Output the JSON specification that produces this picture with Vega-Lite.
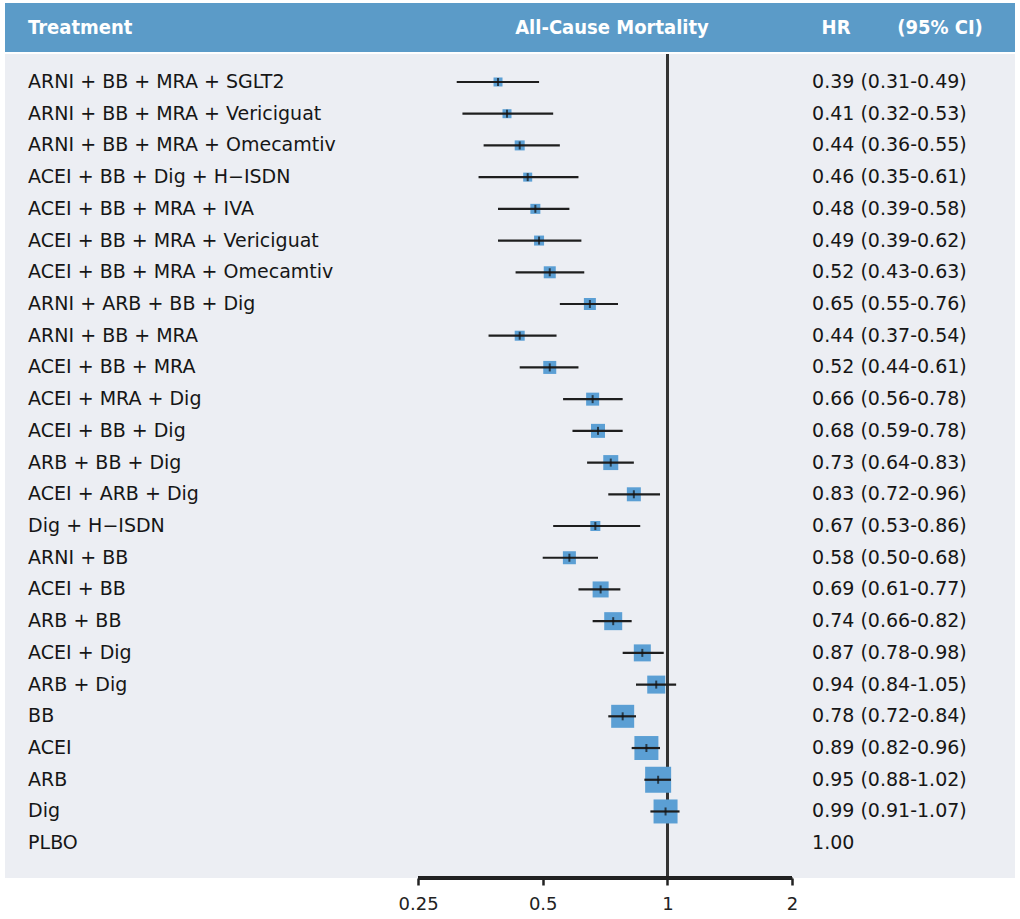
{
  "$schema": "https://vega.github.io/schema/vega-lite/v6.json",
  "padding": {"left": 5, "top": 3, "right": 5, "bottom": 0},
  "background": "white",
  "spacing": 0,
  "config": {"view": {"stroke": null}, "font": "DejaVu Sans"},
  "datasets": {
    "rows": [
      {"treatment": "ARNI + BB + MRA + SGLT2", "hr": 0.39, "lo": 0.31, "hi": 0.49, "w": 9, "label": "0.39 (0.31-0.49)"},
      {"treatment": "ARNI + BB + MRA + Vericiguat", "hr": 0.41, "lo": 0.32, "hi": 0.53, "w": 9, "label": "0.41 (0.32-0.53)"},
      {"treatment": "ARNI + BB + MRA + Omecamtiv", "hr": 0.44, "lo": 0.36, "hi": 0.55, "w": 10, "label": "0.44 (0.36-0.55)"},
      {"treatment": "ACEI + BB + Dig + H−ISDN", "hr": 0.46, "lo": 0.35, "hi": 0.61, "w": 9, "label": "0.46 (0.35-0.61)"},
      {"treatment": "ACEI + BB + MRA + IVA", "hr": 0.48, "lo": 0.39, "hi": 0.58, "w": 10, "label": "0.48 (0.39-0.58)"},
      {"treatment": "ACEI + BB + MRA + Vericiguat", "hr": 0.49, "lo": 0.39, "hi": 0.62, "w": 10, "label": "0.49 (0.39-0.62)"},
      {"treatment": "ACEI + BB + MRA + Omecamtiv", "hr": 0.52, "lo": 0.43, "hi": 0.63, "w": 12, "label": "0.52 (0.43-0.63)"},
      {"treatment": "ARNI + ARB + BB + Dig", "hr": 0.65, "lo": 0.55, "hi": 0.76, "w": 12, "label": "0.65 (0.55-0.76)"},
      {"treatment": "ARNI + BB + MRA", "hr": 0.44, "lo": 0.37, "hi": 0.54, "w": 10, "label": "0.44 (0.37-0.54)"},
      {"treatment": "ACEI + BB + MRA", "hr": 0.52, "lo": 0.44, "hi": 0.61, "w": 13, "label": "0.52 (0.44-0.61)"},
      {"treatment": "ACEI + MRA + Dig", "hr": 0.66, "lo": 0.56, "hi": 0.78, "w": 13, "label": "0.66 (0.56-0.78)"},
      {"treatment": "ACEI + BB + Dig", "hr": 0.68, "lo": 0.59, "hi": 0.78, "w": 14, "label": "0.68 (0.59-0.78)"},
      {"treatment": "ARB + BB + Dig", "hr": 0.73, "lo": 0.64, "hi": 0.83, "w": 15, "label": "0.73 (0.64-0.83)"},
      {"treatment": "ACEI + ARB + Dig", "hr": 0.83, "lo": 0.72, "hi": 0.96, "w": 14, "label": "0.83 (0.72-0.96)"},
      {"treatment": "Dig + H−ISDN", "hr": 0.67, "lo": 0.53, "hi": 0.86, "w": 10, "label": "0.67 (0.53-0.86)"},
      {"treatment": "ARNI + BB", "hr": 0.58, "lo": 0.50, "hi": 0.68, "w": 13, "label": "0.58 (0.50-0.68)"},
      {"treatment": "ACEI + BB", "hr": 0.69, "lo": 0.61, "hi": 0.77, "w": 16, "label": "0.69 (0.61-0.77)"},
      {"treatment": "ARB + BB", "hr": 0.74, "lo": 0.66, "hi": 0.82, "w": 18, "label": "0.74 (0.66-0.82)"},
      {"treatment": "ACEI + Dig", "hr": 0.87, "lo": 0.78, "hi": 0.98, "w": 17, "label": "0.87 (0.78-0.98)"},
      {"treatment": "ARB + Dig", "hr": 0.94, "lo": 0.84, "hi": 1.05, "w": 18, "label": "0.94 (0.84-1.05)"},
      {"treatment": "BB", "hr": 0.78, "lo": 0.72, "hi": 0.84, "w": 23, "label": "0.78 (0.72-0.84)"},
      {"treatment": "ACEI", "hr": 0.89, "lo": 0.82, "hi": 0.96, "w": 24, "label": "0.89 (0.82-0.96)"},
      {"treatment": "ARB", "hr": 0.95, "lo": 0.88, "hi": 1.02, "w": 26, "label": "0.95 (0.88-1.02)"},
      {"treatment": "Dig", "hr": 0.99, "lo": 0.91, "hi": 1.07, "w": 24, "label": "0.99 (0.91-1.07)"},
      {"treatment": "PLBO", "hr": null, "lo": null, "hi": null, "w": null, "label": "1.00"}
    ]
  },
  "vconcat": [
    {
      "width": 1010,
      "height": 49,
      "view": {"fill": "#5b9bc8", "stroke": null},
      "data": {"values": [{}]},
      "layer": [
        {"mark": {"type": "text", "align": "left", "baseline": "middle", "font": "DejaVu Sans Condensed", "fontWeight": "bold", "fontSize": 20, "color": "white"},
         "encoding": {"x": {"datum": 0.0286, "type": "quantitative", "scale": {"type": "log", "domain": [0.02515, 6.91], "nice": false, "zero": false}, "axis": null}, "text": {"value": "Treatment"}}},
        {"mark": {"type": "text", "align": "center", "baseline": "middle", "font": "DejaVu Sans Condensed", "fontWeight": "bold", "fontSize": 20, "color": "white"},
         "encoding": {"x": {"datum": 0.735, "type": "quantitative"}, "text": {"value": "All-Cause Mortality"}}},
        {"mark": {"type": "text", "align": "center", "baseline": "middle", "font": "DejaVu Sans Condensed", "fontWeight": "bold", "fontSize": 20, "color": "white"},
         "encoding": {"x": {"datum": 2.555, "type": "quantitative"}, "text": {"value": "HR"}}},
        {"mark": {"type": "text", "align": "center", "baseline": "middle", "font": "DejaVu Sans Condensed", "fontWeight": "bold", "fontSize": 20, "color": "white"},
         "encoding": {"x": {"datum": 4.554, "type": "quantitative"}, "text": {"value": "(95% CI)"}}}
      ]
    },
    {
      "width": 1010,
      "height": 824,
      "view": {"fill": "#eceef3", "stroke": null},
      "data": {"name": "rows"},
      "encoding": {
        "y": {"field": "treatment", "type": "nominal", "sort": null, "axis": null,
              "scale": {"paddingInner": 0, "paddingOuter": 0.49, "align": 0.39}}
      },
      "layer": [
        {"mark": {"type": "rule", "color": "#333333", "strokeWidth": 2.5},
         "encoding": {"x": {"datum": 1, "type": "quantitative",
                            "scale": {"type": "log", "domain": [0.02515, 6.91], "nice": false, "zero": false},
                            "axis": {"values": [0.25, 0.5, 1, 2], "format": ".2~f", "domain": false, "grid": false, "ticks": true, "tickSize": 7, "tickWidth": 2.5, "tickColor": "#222222", "labelFontSize": 18, "labelColor": "#222222", "labelPadding": 10, "title": null, "labelFont": "DejaVu Sans"}},
                      "y": null}},
        {"mark": {"type": "rule", "color": "#222222", "strokeWidth": 2.5},
         "encoding": {"x": {"datum": 0.25, "type": "quantitative"}, "x2": {"datum": 2}, "y": {"value": "height"}}},
        {"mark": {"type": "point", "shape": "square", "filled": true, "opacity": 1, "color": "#5b9fd4"},
         "encoding": {"x": {"field": "hr", "type": "quantitative"},
                      "size": {"field": "w", "type": "quantitative", "scale": {"type": "pow", "exponent": 2, "domain": [0, 30], "range": [0, 900]}, "legend": null}}},
        {"mark": {"type": "rule", "color": "#1e1e1e", "strokeWidth": 2.2},
         "encoding": {"x": {"field": "lo", "type": "quantitative"}, "x2": {"field": "hi"}}},
        {"mark": {"type": "tick", "orient": "vertical", "color": "#111111", "size": 8, "thickness": 2},
         "encoding": {"x": {"field": "hr", "type": "quantitative"}}},
        {"mark": {"type": "text", "align": "left", "baseline": "middle", "fontSize": 19, "color": "#161616"},
         "encoding": {"x": {"datum": 0.0286, "type": "quantitative"}, "text": {"field": "treatment"}}},
        {"mark": {"type": "text", "align": "left", "baseline": "middle", "fontSize": 19, "color": "#161616"},
         "encoding": {"x": {"datum": 2.236, "type": "quantitative"}, "text": {"field": "label"}}}
      ]
    }
  ]
}
